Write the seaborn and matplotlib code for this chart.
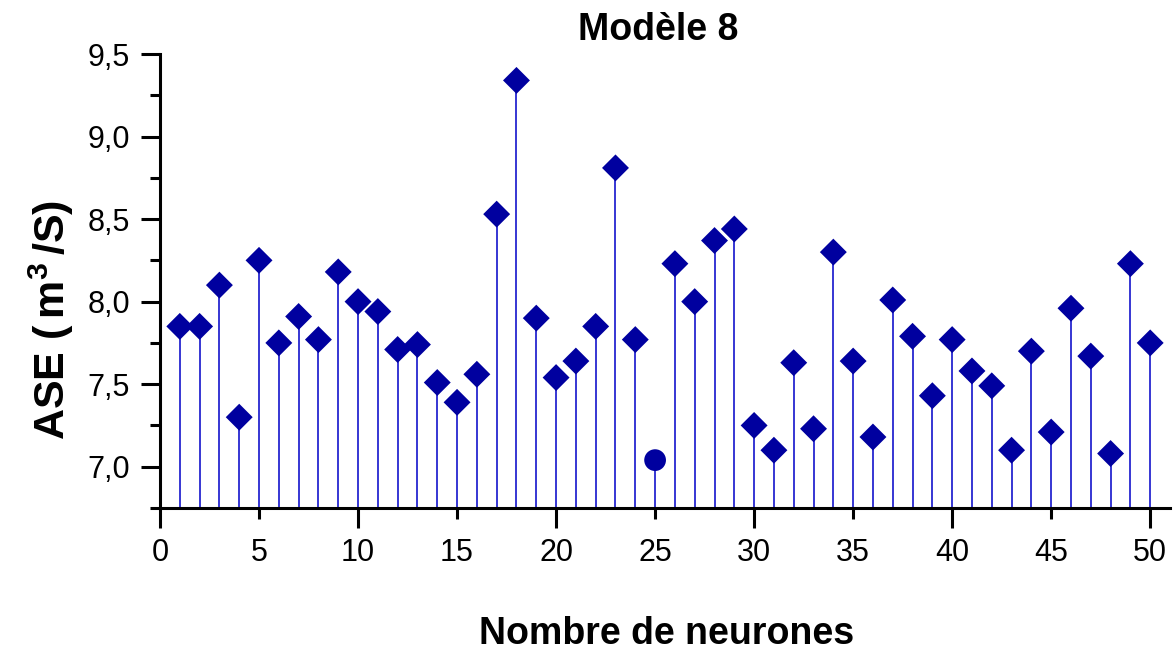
import matplotlib
matplotlib.use("Agg")
import matplotlib.pyplot as plt
import numpy as np
import pandas as pd
import seaborn as sns
from matplotlib.ticker import MultipleLocator, FuncFormatter

# Average squared error of the network for each hidden-layer size
neurones = list(range(1, 51))
ase = [7.85, 7.85, 8.10, 7.30, 8.25, 7.75, 7.91, 7.77, 8.18, 8.00,
       7.94, 7.71, 7.74, 7.51, 7.39, 7.56, 8.53, 9.34, 7.90, 7.54,
       7.64, 7.85, 8.81, 7.77, 7.04, 8.23, 8.00, 8.37, 8.44, 7.25,
       7.10, 7.63, 7.23, 8.30, 7.64, 7.18, 8.01, 7.79, 7.43, 7.77,
       7.58, 7.49, 7.10, 7.70, 7.21, 7.96, 7.67, 7.08, 8.23, 7.75]

title = "Modèle 8"
x_label = "Nombre de neurones"
y_label = r"ASE ($\,$m$^{\mathbf{3}}\,$/S)"

sns.set_style("ticks")
plt.rcParams["font.family"] = ["Liberation Sans", "DejaVu Sans"]
plt.rcParams["mathtext.fontset"] = "custom"
plt.rcParams["mathtext.rm"] = "Liberation Sans"
plt.rcParams["mathtext.bf"] = "Liberation Sans:bold"
plt.rcParams["text.color"] = "black"
plt.rcParams["axes.labelcolor"] = "black"
plt.rcParams["xtick.color"] = "black"
plt.rcParams["ytick.color"] = "black"

df = pd.DataFrame({"neurones": neurones, "ase": ase})
# the best configuration (lowest error) gets a round marker
df["forme"] = np.where(df["ase"] == df["ase"].min(), "rond", "diamant")

W, H = 1174, 653
fig = plt.figure(figsize=(W / 100, H / 100), dpi=100)
left, right, bottom, top = 160, 1170, 508, 54
ax = fig.add_axes([left / W, 1 - bottom / H, (right - left) / W, (bottom - top) / H])

ymin, ymax = 6.75, 9.5
ax.set_xlim(0, 51)
ax.set_ylim(ymin, ymax)

marker_col = "#00009F"
stem_col = "#0000C8"

ax.vlines(df["neurones"], ymin, df["ase"], color=stem_col, lw=1.1, zorder=2)
sns.scatterplot(data=df, x="neurones", y="ase", style="forme", size="forme",
                markers={"diamant": "D", "rond": "o"},
                sizes={"diamant": 188, "rond": 245},
                color=marker_col, edgecolor="none", linewidth=0,
                legend=False, ax=ax, zorder=3, clip_on=False)

# spines
for s in ("top", "right"):
    ax.spines[s].set_visible(False)
for s in ("left", "bottom"):
    ax.spines[s].set_linewidth(2.2)
    ax.spines[s].set_color("black")

tick_fs = 22

# x ticks: long every 10, short every 5, all labelled
ax.xaxis.set_major_locator(MultipleLocator(10))
ax.xaxis.set_minor_locator(MultipleLocator(5))
ax.xaxis.set_major_formatter(FuncFormatter(lambda v, p: f"{v:g}"))
ax.xaxis.set_minor_formatter(FuncFormatter(lambda v, p: f"{v:g}"))
ax.tick_params(axis="x", which="major", length=14.4, width=2.2, pad=7,
               labelsize=tick_fs, direction="out", color="black")
ax.tick_params(axis="x", which="minor", length=8, width=2.2, pad=13.4,
               labelsize=tick_fs, direction="out", color="black")

# y ticks with decimal comma
ax.yaxis.set_major_locator(MultipleLocator(0.5))
ax.yaxis.set_minor_locator(MultipleLocator(0.25))
ax.yaxis.set_major_formatter(FuncFormatter(lambda v, p: f"{v:.1f}".replace(".", ",")))
ax.tick_params(axis="y", which="major", length=13.7, width=2.2, pad=8,
               labelsize=tick_fs, direction="out", color="black")
ax.tick_params(axis="y", which="minor", length=7.2, width=2.2,
               direction="out", color="black")

ax.set_title(title, fontsize=27, fontweight="bold", pad=10)
ax.title.set_x(0.4936)

ax.set_xlabel(x_label, fontsize=27, fontweight="bold")
ax.xaxis.set_label_coords(0.5015, -0.238)
ax.set_ylabel(y_label, fontsize=31, fontweight="bold")
ax.yaxis.set_label_coords(-0.083, 0.415)

fig.savefig("out.png", dpi=100, facecolor="white")
